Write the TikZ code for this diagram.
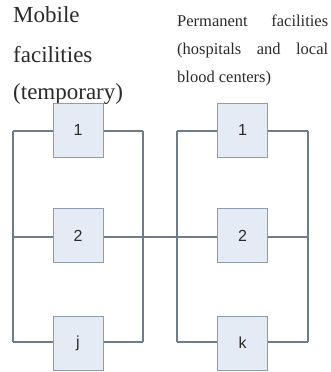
\documentclass[tikz,border=0pt]{standalone}
\usepackage{fontspec}
\setmainfont{Liberation Serif}
\newfontfamily\numfont{Liberation Sans}
\definecolor{boxfill}{HTML}{E4EBF5}
\definecolor{boxdraw}{HTML}{8E9CAE}
\definecolor{wire}{HTML}{6E7B8A}
\definecolor{ink}{HTML}{2A2A2A}
\begin{document}
\begin{tikzpicture}[x=1pt,y=-1pt,
  unit/.style={draw=boxdraw,fill=boxfill,line width=1pt,minimum width=50pt,minimum height=54pt,inner sep=0pt,font=\numfont\fontsize{16}{16}\selectfont,text=ink},
  wireline/.style={draw=wire,line width=1.1pt},
  bigtitle/.style={anchor=base west,inner sep=0pt,font=\fontsize{23}{23}\selectfont,text=ink},
  smalltitle/.style={anchor=base west,inner sep=0pt,font=\fontsize{16.5}{16.5}\selectfont,text=ink}]
\useasboundingbox (0,0) rectangle (331,372);
% titles
\node[bigtitle] (t1) at (13,22) {Mobile};
\node[bigtitle] (t2) at (13,62) {facilities};
\node[bigtitle] (t3) at (13,99) {(temporary)};
\node[smalltitle] (s1) at (177,26) {\makebox[151pt][s]{Permanent\hfill facilities}};
\node[smalltitle] (s2) at (177,54) {\makebox[151pt][s]{(hospitals\hfill and\hfill local}};
\node[smalltitle] (s3) at (177,82) {blood centers)};
% rails
\coordinate (LLt) at (13,131); \coordinate (LLm) at (13,237); \coordinate (LLb) at (13,342);
\coordinate (LRt) at (143,131); \coordinate (LRm) at (143,237); \coordinate (LRb) at (143,342);
\coordinate (RLt) at (177,131); \coordinate (RLm) at (177,237); \coordinate (RLb) at (177,342);
\coordinate (RRt) at (308,131); \coordinate (RRm) at (308,237); \coordinate (RRb) at (308,342);
% boxes
\node[unit] (a1) at (78,130) {1};
\node[unit] (a2) at (78,235.5) {2};
\node[unit] (aj) at (78,343) {j};
\node[unit] (b1) at (242.5,130) {1};
\node[unit] (b2) at (242.5,235.5) {2};
\node[unit] (bk) at (242.5,343) {k};
% wiring
\draw[wireline] (LLt) -- (LLb);
\draw[wireline] (LRt) -- (LRb);
\draw[wireline] (RLt) -- (RLb);
\draw[wireline] (RRt) -- (RRb);
\draw[wireline] (LLt) -- (a1.west |- LLt);
\draw[wireline] (a1.east |- LRt) -- (LRt);
\draw[wireline] (LLm) -- (a2.west |- LLm);
\draw[wireline] (a2.east |- LRm) -- (LRm);
\draw[wireline] (LLb) -- (aj.west |- LLb);
\draw[wireline] (aj.east |- LRb) -- (LRb);
\draw[wireline] (LRm) -- (RLm);
\draw[wireline] (RLt) -- (b1.west |- RLt);
\draw[wireline] (b1.east |- RRt) -- (RRt);
\draw[wireline] (RLm) -- (b2.west |- RLm);
\draw[wireline] (b2.east |- RRm) -- (RRm);
\draw[wireline] (RLb) -- (bk.west |- RLb);
\draw[wireline] (bk.east |- RRb) -- (RRb);
\end{tikzpicture}
\end{document}
